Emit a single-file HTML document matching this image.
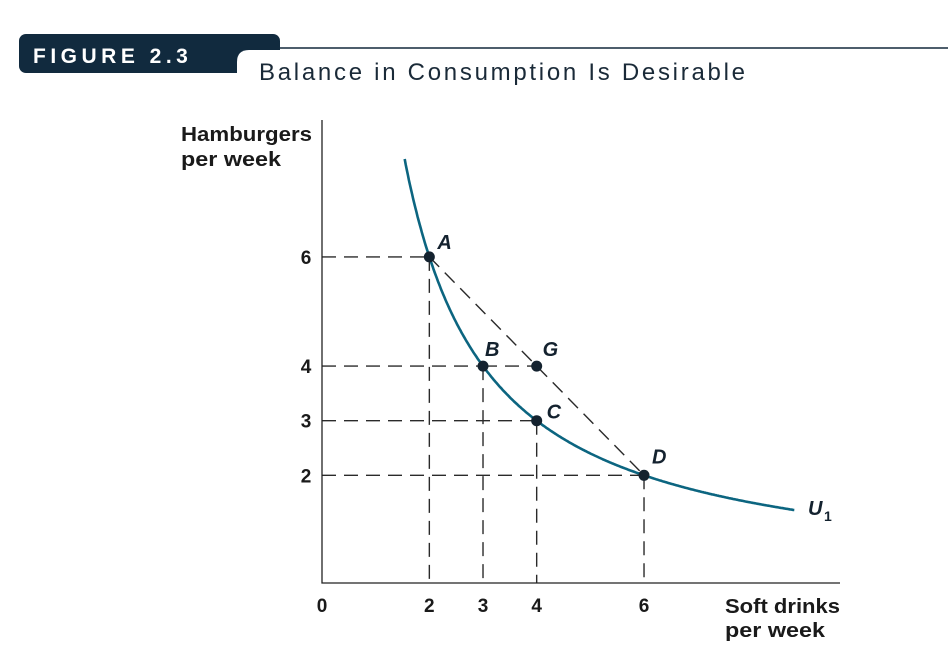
<!DOCTYPE html>
<html><head><meta charset="utf-8"><style>
body{margin:0;background:#fff;width:948px;height:672px;overflow:hidden;font-family:"Liberation Sans",sans-serif}
svg{position:absolute;left:0;top:0}
</style></head><body>
<svg width="948" height="672" viewBox="0 0 948 672">
<g>
<line x1="270" y1="48" x2="948" y2="48" stroke="#14293b" stroke-width="1.5"/>
<rect x="19" y="34" width="261" height="39" rx="7" fill="#112a3e"/>
<path d="M237,74 L237,62 Q237,50 249,50 L282,50 L282,74 Z" fill="#fff"/>
<text x="33" y="63" fill="#fff" font-size="21" font-weight="bold" letter-spacing="4.5">FIGURE 2.3</text>
<text x="259" y="80" fill="#1a2a38" font-size="24" textLength="486" lengthAdjust="spacing">Balance in Consumption Is Desirable</text>
</g>
<g id="chart" font-weight="bold" fill="#1a1a1a"></g>
</svg>
<script>
const xTicks=[2,3,4,6];
const yTicks=[6,4,3,2];
const ptLabels=['A','B','G','C','D'];
const ptX=[2,3,4,4,6];
const ptY=[6,4,4,3,2];
const utility=12;
const X=v=>322+v*53.67;
const Y=v=>584.5-v*54.6;
const NS='http://www.w3.org/2000/svg';
const g=document.getElementById('chart');
function mk(t,a,txt){const e=document.createElementNS(NS,t);for(const k in a)e.setAttribute(k,a[k]);if(txt!=null)e.textContent=txt;g.appendChild(e);return e;}
const dash={stroke:'#2a2a2a','stroke-width':1.4,'stroke-dasharray':'14,8',fill:'none'};
for(let i=0;i<ptX.length;i++){
 if(ptLabels[i]==='G')continue;
 let l=mk('line',Object.assign({x1:322,y1:Y(ptY[i]),x2:X(ptX[i]),y2:Y(ptY[i])},dash));
 
 
 let v=mk('line',Object.assign({x1:X(ptX[i]),y1:Y(ptY[i]),x2:X(ptX[i]),y2:583},dash));
 
 
}
let hg=mk('line',Object.assign({x1:X(3),y1:Y(4),x2:X(4),y2:Y(4)},dash));


let ad=mk('line',Object.assign({x1:X(2),y1:Y(6),x2:X(6),y2:Y(2)},dash));


let d='';
for(let x=1.54;x<=8.8;x+=0.02){d+=(d?'L':'M')+X(x).toFixed(1)+','+Y(utility/x).toFixed(1);}
let c=mk('path',{d:d,stroke:'#0c6580','stroke-width':2.6,fill:'none'});


let ax=mk('path',{d:'M322,120 L322,583 L840,583',stroke:'#222','stroke-width':1.3,fill:'none'});


xTicks.forEach(v=>{let t=mk('text',{x:X(v),y:612,'text-anchor':'middle','font-size':19},v);
 
 });
let z=mk('text',{x:322,y:612,'text-anchor':'middle','font-size':19},'0');


yTicks.forEach(v=>{let t=mk('text',{x:306,y:Y(v)+7,'text-anchor':'middle','font-size':19},v);
 
 });
const off={A:[8,-8],B:[2,-10],G:[6,-10],C:[10,-2],D:[8,-12]};
for(let i=0;i<ptX.length;i++){
 let p=mk('circle',{cx:X(ptX[i]),cy:Y(ptY[i]),r:5.5,fill:'#14222f'});
 
 
 let o=off[ptLabels[i]];
 let t=mk('text',{x:X(ptX[i])+o[0],y:Y(ptY[i])+o[1],'font-size':20,'font-style':'italic',fill:'#14222f'},ptLabels[i]);
 
 
}
let u=mk('text',{x:808,y:515,'font-size':20,'font-style':'italic',fill:'#14222f'},'U');


let us=mk('text',{x:824,y:521,'font-size':14,fill:'#14222f'},'1');


[['Hamburgers',141],['per week',166]].forEach((s,i)=>{let t=mk('text',{x:181,y:s[1],'font-size':20,textLength:s[0].length>9?131:100,lengthAdjust:'spacingAndGlyphs'},s[0]);
 
 });
[['Soft drinks',613],['per week',637]].forEach((s,i)=>{let t=mk('text',{x:725,y:s[1],'font-size':20,textLength:s[0].length>9?115:100,lengthAdjust:'spacingAndGlyphs'},s[0]);
 
 });
</script>
</body></html>
